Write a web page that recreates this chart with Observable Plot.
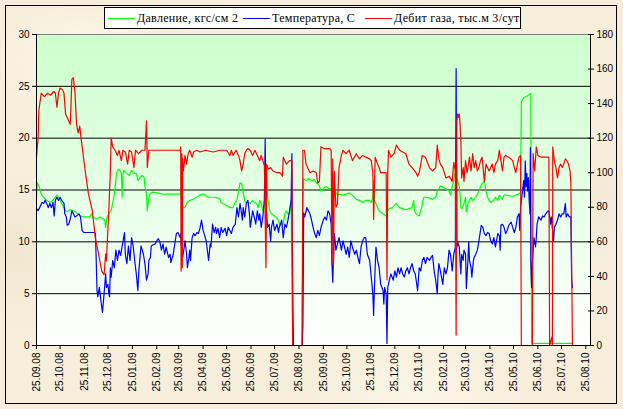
<!DOCTYPE html>
<html>
<head>
<meta charset="utf-8">
<script src="https://cdn.jsdelivr.net/npm/d3@7"></script>
<script src="https://cdn.jsdelivr.net/npm/@observablehq/plot@0.6"></script>
<style>
html,body{margin:0;padding:0;}
body{width:623px;height:409px;overflow:hidden;background:#f6eddb;}
#wrap{position:relative;width:623px;height:409px;
  background:
   radial-gradient(ellipse 120px 80px at 80px 60px, rgba(255,252,242,0.7), rgba(255,252,242,0) 70%),
   radial-gradient(ellipse 160px 90px at 420px 390px, rgba(255,250,238,0.6), rgba(255,250,238,0) 70%),
   radial-gradient(ellipse 140px 100px at 560px 200px, rgba(236,224,196,0.5), rgba(236,224,196,0) 70%),
   radial-gradient(ellipse 100px 120px at 15px 250px, rgba(238,226,200,0.6), rgba(238,226,200,0) 70%),
   #f7efdc;}
#border{position:absolute;left:5px;top:5px;width:610px;height:397px;border:1px solid #000;pointer-events:none;}
#chart{position:absolute;left:0;top:0;}
#legend{position:absolute;left:104px;top:7px;width:417px;height:22px;box-sizing:border-box;border:1px solid #000;background:#fff;
  font-family:'Liberation Serif','Times New Roman',serif;font-size:12px;letter-spacing:0.3px;color:#000;white-space:nowrap;}
#legend .sw{position:absolute;top:10px;width:27px;height:0;border-top:1.4px solid;}
#legend .tx{position:absolute;top:2px;line-height:16px;}
</style>
</head>
<body>
<div id="wrap">
  <div id="chart"></div>
  <div id="legend"></div>
  <div id="border"></div>
</div>
<script>
// ---- data (day offset from 25.09.08, value) ----
const tickLabels = ["25.09.08","25.10.08","25.11.08","25.12.08","25.01.09","25.02.09","25.03.09","25.04.09","25.05.09","25.06.09","25.07.09","25.08.09","25.09.09","25.10.09","25.11.09","25.12.09","25.01.10","25.02.10","25.03.10","25.04.10","25.05.10","25.06.10","25.07.10","25.08.10"];
const leftTicks = [0,5,10,15,20,25,30];
const rightTicks = [0,20,40,60,80,100,120,140,160,180];
const seriesNames = ["Давление, кгс/см 2","Температура, С","Дебит газа, тыс.м 3/сут"];
const seriesColors = ["#00ff00","#0000ff","#ff0000"];

// Давление, кгс/см2 (left axis)
const pressure = [[0,14.1],[1,15.7],[3,15.4],[6,14.6],[9,14.3],[13,14.0],[17,13.8],[21,14.0],[24,14.3],[26,14.5],[28,14.3],[30,14.0],[32,13.7],[35,13.3],[37,13.0],[39,12.9],[41,13.0],[43,13.1],[47,13.0],[52,12.7],[56,12.5],[60,12.4],[64,12.4],[68,12.4],[70,12.7],[72,12.4],[76,12.2],[81,12.4],[85,12.2],[87,12.1],[88,11.4],[90,12.4],[92,12.7],[95,13.0],[97,13.7],[99,14.6],[102,16.6],[104,17.0],[106,16.9],[108,16.6],[109,14.3],[110,16.4],[111,16.9],[115,16.6],[118,16.4],[121,16.9],[124,16.6],[127,16.6],[129,15.9],[132,16.2],[135,16.4],[137,16.2],[138,15.3],[140,14.6],[141,13.0],[143,14.3],[144,14.6],[148,14.8],[155,14.7],[161,14.6],[170,14.6],[183,14.6],[184,14.8],[185,13.8],[187,13.3],[189,13.3],[191,13.7],[195,14.0],[200,14.1],[204,14.3],[208,14.5],[212,14.6],[215,14.5],[219,14.3],[226,14.3],[233,14.2],[235,13.8],[237,13.7],[242,13.5],[246,13.3],[250,13.3],[252,13.7],[255,14.0],[257,14.8],[259,15.7],[261,15.6],[263,14.8],[265,14.0],[266,13.8],[270,13.8],[272,13.7],[275,14.0],[277,13.8],[280,13.7],[282,13.3],[284,14.0],[286,13.7],[288,13.0],[290,13.7],[291,17.2],[293,16.2],[294,14.3],[297,13.0],[299,12.7],[303,12.5],[307,12.2],[310,11.6],[314,11.7],[316,12.7],[318,13.0],[320,12.7],[322,12.7],[324,14.0],[326,0],[338,0],[339,13.0],[340,16.1],[343,15.9],[346,16.1],[350,15.9],[354,16.0],[356,15.7],[358,15.6],[360,15.4],[362,14.9],[364,15.0],[367,15.3],[369,15.3],[373,15.1],[375,15.1],[377,14.9],[379,14.6],[381,14.8],[383,14.5],[385,14.6],[390,14.5],[394,14.6],[398,14.7],[402,14.5],[407,14.1],[411,14.0],[415,13.8],[419,14.0],[424,14.0],[426,13.8],[428,14.3],[429,15.9],[430,14.0],[432,13.7],[434,13.3],[436,13.0],[441,12.7],[445,12.5],[447,13.0],[449,13.2],[453,13.3],[458,13.7],[462,13.3],[466,13.2],[470,13.1],[474,13.2],[478,13.3],[480,14.0],[481,13.0],[483,12.7],[487,12.5],[489,13.0],[491,13.7],[493,14.3],[497,14.3],[504,14.1],[508,14.3],[510,14.9],[512,15.1],[514,15.4],[517,15.3],[521,15.1],[525,14.9],[527,14.5],[529,15.3],[531,15.9],[533,16.9],[534,16.2],[536,15.9],[538,15.3],[539,14.6],[540,13.3],[542,13.2],[544,13.7],[546,14.3],[547,12.9],[549,13.7],[551,14.0],[553,14.3],[555,14.0],[557,14.1],[559,14.3],[563,14.9],[565,15.3],[567,15.6],[570,15.9],[572,14.9],[574,14.3],[576,14.0],[578,13.8],[582,14.0],[584,14.3],[587,14.0],[589,14.5],[591,14.3],[593,14.1],[595,14.5],[597,14.5],[606,14.4],[610,14.5],[614,14.6],[616,14.8],[617,23.5],[620,23.9],[625,24.1],[629,24.3],[630,0.2],[682,0.2]];

// Температура, С (left axis)
const temperature = [[0,13.2],[2,13.0],[4,13.3],[7,13.8],[9,13.7],[11,14.0],[13,13.7],[15,13.3],[17,13.7],[19,13.3],[21,13.8],[22.5,12.5],[24,14.0],[26,14.3],[28,14.0],[30,14.3],[32,14.0],[35,13.7],[36,12.7],[38,12.4],[39,11.6],[41,11.7],[43,12.2],[45,13.0],[47,12.7],[49,12.4],[51,12.5],[54,12.7],[56,12.4],[58,11.1],[60,10.9],[66,10.9],[73,10.9],[75,10.8],[76,8.2],[77,5.3],[78,4.7],[80,5.6],[81,5.0],[82,4.3],[83,3.7],[84,3.2],[86,5.0],[88,6.9],[89,5.6],[91,5.9],[92,5.0],[93,4.7],[94,7.5],[95,6.6],[97,8.2],[99,7.5],[101,9.2],[103,8.2],[105,9.2],[107,8.7],[109,9.6],[110,10.0],[112,10.9],[113,8.8],[115,7.9],[117,9.6],[119,8.2],[121,10.4],[123,9.6],[125,8.2],[127,6.9],[129,5.3],[130,6.9],[131,7.9],[133,9.6],[136,8.8],[138,7.9],[140,6.3],[142,6.9],[143,8.2],[145,8.5],[146,9.6],[148,9.7],[151,9.8],[153,10.1],[155,10.3],[157,10.0],[159,9.2],[161,9.8],[163,8.8],[165,9.5],[168,8.5],[170,8.8],[171,8.0],[174,8.8],[176,9.8],[178,10.8],[180,10.9],[183,10.4],[183.5,10.8],[184,9.8],[186,8.5],[188,9.5],[189,10.1],[191,8.8],[192,7.5],[194,8.5],[195,9.2],[196,8.2],[198,10.4],[200,10.8],[202,10.6],[204,10.9],[206,10.8],[208,11.3],[210,12.1],[212,11.1],[214,10.6],[216,10.1],[219,8.2],[221,9.8],[222,9.5],[224,11.7],[226,10.9],[228,11.4],[229,10.8],[231,11.3],[233,10.4],[235,11.4],[237,10.9],[240,11.3],[242,10.6],[244,11.4],[246,11.1],[248,10.8],[250,11.4],[253,11.7],[255,13.3],[257,12.4],[259,13.7],[261,12.7],[262,12.1],[263,13.3],[265,12.4],[267,13.7],[269,14.0],[271,12.7],[272,11.4],[274,12.4],[275,13.0],[278,12.1],[279,11.7],[281,13.0],[283,12.1],[284,12.7],[286,11.4],[288,12.4],[290,14.0],[291,19.9],[292,13.7],[294,11.4],[296,11.7],[298,10.1],[299,11.4],[301,12.1],[303,11.1],[306,11.7],[308,10.9],[309,11.4],[312,12.1],[314,10.4],[316,11.7],[318,11.4],[320,12.1],[322,13.0],[324,14.0],[325,18.5],[326,5.3],[327,0],[338,0],[339,1.8],[339.5,7.2],[340,12.8],[341,12.4],[343,12.9],[344,13.3],[346,13.0],[348,12.7],[350,12.1],[352,11.4],[354,10.8],[356,10.4],[358,11.1],[360,10.6],[362,11.4],[365,12.1],[367,12.4],[369,12.1],[371,13.0],[373,12.7],[375,11.7],[376,7.9],[377,6.1],[379,10.8],[380,10.1],[381,9.2],[383,9.8],[385,10.4],[388,9.2],[390,10.1],[392,9.5],[394,8.8],[396,9.5],[398,8.5],[400,10.1],[402,9.5],[405,8.8],[407,9.2],[409,8.5],[411,7.9],[413,9.5],[415,10.1],[417,10.4],[419,10.4],[421,8.8],[424,8.2],[426,6.6],[428,5.0],[429,2.9],[430,5.6],[432,9.5],[434,8.2],[436,7.5],[438,5.9],[441,5.3],[442,4.0],[443,5.6],[445,5.0],[446,0.2],[447,5.6],[449,6.3],[451,6.9],[454,6.3],[456,7.2],[458,6.6],[460,7.5],[462,6.9],[464,7.5],[466,6.9],[468,6.6],[470,7.2],[472,7.5],[474,6.9],[476,7.5],[478,7.9],[480,7.2],[482,6.9],[485,5.3],[487,7.5],[489,7.2],[491,8.2],[493,8.5],[495,7.9],[497,8.5],[500,8.2],[502,8.5],[504,8.7],[506,7.2],[508,6.3],[510,5.0],[511,6.9],[512,7.9],[514,7.2],[517,5.9],[519,7.5],[521,6.9],[523,7.5],[525,9.2],[527,8.7],[529,7.2],[531,8.8],[533,9.5],[534,26.7],[535,9.5],[536,10.0],[538,9.5],[540,6.9],[541,8.8],[543,8.2],[544,9.2],[546,8.8],[547,5.5],[549,8.2],[550,10.0],[551,8.2],[553,7.5],[554,6.6],[556,8.2],[557,8.5],[559,8.8],[561,9.2],[563,10.1],[566,11.6],[568,11.4],[570,10.8],[572,10.6],[574,10.9],[576,10.8],[578,10.1],[580,9.8],[582,10.4],[584,9.5],[587,10.8],[589,10.6],[590,9.2],[591,11.6],[593,11.7],[595,11.4],[597,10.8],[599,11.1],[601,11.6],[604,11.9],[606,11.4],[608,10.9],[610,11.4],[612,12.4],[614,12.7],[615,11.1],[616,13.3],[618,14.6],[620,15.9],[621,14.3],[622,17.8],[623,15.3],[624,16.6],[625,14.9],[626,16.2],[627,14.0],[628,12.7],[628.5,19.1],[629,8.2],[630,5.6],[631,8.0],[633,10.4],[635,9.5],[636,10.4],[637,11.7],[639,12.4],[642,12.1],[644,12.5],[646,12.4],[648,12.7],[650,12.9],[652,13.0],[654,11.7],[655,12.4],[656,11.7],[658,10.1],[659,11.4],[661,11.7],[663,12.1],[665,12.7],[667,12.4],[669,12.7],[671,12.7],[673,13.7],[674,12.4],[676,12.7],[678,12.4],[680,12.4],[681,6.3],[682,5.6]];

// Дебит газа, тыс.м3/сут (right axis)
const debit = [[0,109],[2,120],[3,136],[6,146],[10,144],[14,146],[18,145],[22,147],[24,146],[26,138],[28,146],[30,149],[33,148],[35,146],[37,134],[41,130],[43,128],[45,154],[47,155],[49,146],[51,128],[53,123],[55,127],[57,119],[62,101],[66,88],[71,78],[75,62],[79,53],[83,43],[86,41],[88,53],[89,49],[90,59],[92,78],[94,101],[95,120],[97,115],[100,113],[103,110],[105,113],[108,107],[110,113],[113,112],[116,105],[118,113],[121,112],[124,103],[126,113],[130,111],[134,113],[138,113],[140,130],[141,103],[143,113],[150,113],[160,113],[170,113],[183,113],[183.5,115],[184,43],[185,111],[185.5,45],[186,108],[187,101],[189,110],[191,105],[193,111],[195,113],[198,109],[200,112],[204,113],[208,112],[215,113],[225,112],[233,113],[242,113],[246,110],[248,113],[250,110],[254,113],[257,110],[259,107],[261,101],[263,105],[265,111],[267,113],[269,114],[272,113],[275,110],[278,113],[281,110],[284,107],[286,110],[288,107],[290,104],[292,45],[293,105],[295,102],[298,103],[301,101],[306,100],[310,100],[313,98],[314,109],[318,105],[322,107],[325,107],[326,0],[338,0],[339,113],[341,113],[343,105],[345,103],[348,100],[352,101],[356,100],[358,94],[360,95],[362,115],[366,114],[373,114],[375,113],[376,47],[377,108],[378,47],[379,101],[381,80],[383,82],[385,103],[388,110],[390,113],[394,111],[398,113],[402,107],[407,111],[411,108],[415,110],[419,109],[424,108],[426,107],[428,100],[429,73],[431,109],[434,105],[436,103],[438,100],[443,100],[445,100],[446,38],[447,100],[448,113],[451,109],[455,111],[458,116],[462,113],[466,112],[470,111],[474,105],[478,103],[483,100],[485,98],[487,100],[491,110],[495,109],[500,103],[504,101],[508,103],[510,116],[512,108],[514,105],[517,103],[519,100],[521,97],[525,98],[529,95],[531,106],[533,101],[534,6],[535,130],[536,134],[537,132],[538,134],[539,128],[540,119],[541,97],[543,103],[544,95],[546,107],[548,100],[551,109],[553,101],[555,111],[557,103],[559,107],[561,101],[563,103],[565,107],[567,109],[570,95],[572,105],[574,103],[576,101],[578,103],[580,105],[582,100],[584,105],[587,107],[589,113],[591,107],[593,101],[595,109],[597,110],[601,109],[606,107],[608,103],[610,100],[612,105],[614,109],[616,110],[617,0],[631,0],[632,111],[634,101],[636,115],[638,110],[642,109],[646,109],[652,109],[653,0],[656,5],[656.5,0],[657,115],[659,107],[661,103],[663,97],[665,103],[667,105],[669,103],[671,105],[673,108],[675,107],[677,105],[679,101],[680,94],[682,0]];

// ---- chart ----
const parse = d3.utcParse("%d.%m.%y");
const tickDates = tickLabels.map(parse);
const t0 = tickDates[0];
const at = d => new Date(+t0 + d * 864e5);
const tEnd = at(705);

const chart = Plot.plot({
  width: 623, height: 409,
  marginLeft: 36, marginRight: 33, marginTop: 34, marginBottom: 64,
  style: {background: "transparent", fontFamily: "'Liberation Sans', Arial, sans-serif", fontSize: "10px", color: "#000", overflow: "visible"},
  x: {type: "utc", domain: [t0, tEnd], label: null},
  y: {domain: [0, 30], label: null},
  marks: [
    Plot.frame({fill: "url(#bgGrad)", stroke: null}),
    Plot.ruleY(leftTicks.filter(v => v > 0 && v < 30), {stroke: "#000", strokeWidth: 1}),
    Plot.ruleY([30], {stroke: "#808080", strokeWidth: 1}),
    Plot.line(pressure, {x: d => at(d[0]), y: d => d[1], stroke: seriesColors[0], strokeWidth: 1.2}),
    Plot.line(temperature, {x: d => at(d[0]), y: d => d[1], stroke: seriesColors[1], strokeWidth: 1.2}),
    Plot.line(debit, {x: d => at(d[0]), y: d => d[1] / 6, stroke: seriesColors[2], strokeWidth: 1.2}),
    Plot.ruleX([t0], {stroke: "#000"}),
    Plot.ruleX([tEnd], {stroke: "#000"}),
    Plot.ruleY([0], {stroke: "#000"}),
    Plot.axisY(leftTicks, {anchor: "left", tickSize: 4, tickPadding: 3, fill: "#000"}),
    Plot.axisY(rightTicks.map(v => v / 6), {anchor: "right", tickSize: 0, tickPadding: 6, fill: "#000", tickFormat: d => String(Math.round(d * 6))}),
    Plot.axisY(rightTicks.map(v => v / 6), {anchor: "right", tickSize: 6, dx: -3, tickFormat: () => ""}),
    Plot.axisX(tickDates, {anchor: "bottom", tickSize: 4, tickPadding: 3, tickRotate: -90, fill: "#000", tickFormat: d => tickLabels[tickDates.findIndex(t => +t === +d)]})
  ]
});

const defs = d3.select(chart).insert("defs", ":first-child");
const grad = defs.append("linearGradient").attr("id", "bgGrad").attr("x1", 0).attr("y1", 0).attr("x2", 0).attr("y2", 1);
grad.append("stop").attr("offset", "0%").attr("stop-color", "#ccffcc");
grad.append("stop").attr("offset", "100%").attr("stop-color", "#ffffff");

document.getElementById("chart").appendChild(chart);

// ---- legend ----
const legend = d3.select("#legend");
const swX = [3, 138, 260];
const txX = [32, 167, 289];
seriesNames.forEach((name, i) => {
  legend.append("span").attr("class", "sw").style("left", swX[i] + "px").style("border-top-color", seriesColors[i]);
  legend.append("span").attr("class", "tx").style("left", txX[i] + "px").text(name);
});
</script>
</body>
</html>
